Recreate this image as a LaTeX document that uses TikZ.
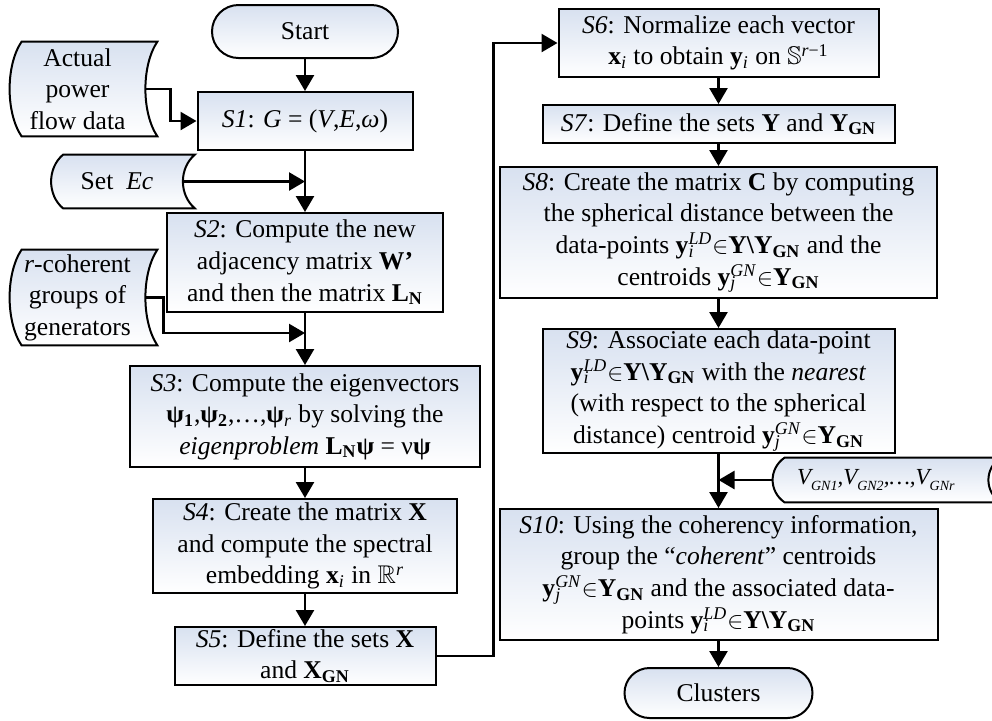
\documentclass[tikz,border=0pt]{standalone}
\usepackage{fontspec}
\setmainfont{Liberation Serif}
\usepackage{amssymb}
\usetikzlibrary{shapes.misc,arrows.meta,backgrounds,calc}
\definecolor{boxtop}{RGB}{216,225,240}
\newcommand\mysubsup[2]{\rlap{\textsubscript{\textit{#1}}}\textsuperscript{\textit{#2}}}
\newcommand\vsub[1]{\raisebox{-0.22em}{\fontsize{7}{8}\selectfont #1}}
% data (stored-data) outline around a named node; #2 = bulge depth
\newcommand\datashape[2]{%
  \path[dshape] let \p1=(#1.north west), \p2=(#1.south east) in
    (\x1+#2,\y1) -- (\x2+#2,\y1)
    .. controls (\x2-#2/3,{\y1+(\y2-\y1)/4}) and (\x2-#2/3,{\y2-(\y2-\y1)/4}) .. (\x2+#2,\y2)
    -- (\x1+#2,\y2)
    .. controls (\x1-#2/3,{\y2-(\y2-\y1)/4}) and (\x1-#2/3,{\y1+(\y2-\y1)/4}) .. cycle;}
\begin{document}
\begin{tikzpicture}[x=0.5pt,y=-0.5pt,
  txt/.style={inner sep=0pt, align=center, font=\fontsize{12.8}{15.8}\selectfont},
  base/.style={txt, draw=black, line width=1pt, top color=boxtop, bottom color=white},
  proc/.style={base, rectangle},
  term/.style={base, rounded rectangle},
  dtxt/.style={txt, rectangle},
  dshape/.style={draw=black, line width=1pt, top color=boxtop, bottom color=white},
  conn/.style={line width=1.25pt, -{Triangle[length=8pt,width=9pt]}}]
\useasboundingbox (0,0) rectangle (992,720);
\clip (0,0) rectangle (992,720);

% left column
\node[term, minimum width=93pt, minimum height=26.5pt] (start) at (305,31.5) {Start};
\node[dtxt, minimum width=67.5pt, minimum height=47pt] (apf) at (77.5,89) {Actual\\power\\flow data};
\node[proc, minimum width=107.5pt, minimum height=29pt] (s1) at (305,121)
  {\textit{S1}: \textit{G} = (\textit{V},\textit{E},\textit{ω})};
\node[dtxt, minimum width=65.5pt, minimum height=26.5pt] (setec) at (117,181.5) {Set\ \ \textit{Ec}};
\node[proc, minimum width=138pt, minimum height=49.5pt] (s2) at (305,262.5)
  {\textit{S2}: Compute the new\\adjacency matrix \textbf{W'}\\and then the matrix \textbf{L\textsubscript{N}}};
\node[dtxt, minimum width=67.5pt, minimum height=47.5pt] (rcg) at (77.5,297.5)
  {\textit{r}-coherent\\groups of\\generators};
\coordinate (j2) at (305,333);
\node[proc, minimum width=175pt, minimum height=50.5pt] (s3) at (305,416.5)
  {\textit{S3}: Compute the eigenvectors\\
   \textbf{ψ\textsubscript{1}},\textbf{ψ\textsubscript{2}},…,\textbf{ψ}\textsubscript{\textit{r}} by solving the\\
   \textit{eigenproblem} \textbf{L\textsubscript{N}ψ} = ν\textbf{ψ}};
\node[proc, minimum width=152pt, minimum height=47pt] (s4) at (305,546)
  {\textit{S4}: Create the matrix \textbf{X}\\and compute the spectral\\embedding \textbf{x}\textsubscript{\textit{i}} in $\mathbb{R}$\textsuperscript{\textit{r}}};
\node[proc, minimum width=130.5pt, minimum height=29pt] (s5) at (305,656)
  {\textit{S5}: Define the sets \textbf{X}\\and \textbf{X\textsubscript{GN}}};

% right column
\node[proc, minimum width=160pt, minimum height=34pt] (s6) at (718.5,43)
  {\textit{S6}: Normalize each vector\\\textbf{x}\textsubscript{\textit{i}} to obtain \textbf{y}\textsubscript{\textit{i}} on $\mathbb{S}$\textsuperscript{\textit{r}−1}};
\node[proc, minimum width=176pt, minimum height=19pt] (s7) at (718.5,124)
  {\textit{S7}: Define the sets \textbf{Y} and \textbf{Y\textsubscript{GN}}};
\node[proc, minimum width=218.5pt, minimum height=65.5pt] (s8) at (718.5,232.5)
  {\textit{S8}: Create the matrix \textbf{C} by computing\\the spherical distance between the\\
   data-points \textbf{y}\mysubsup{i}{LD}$\in$\textbf{Y\textbackslash Y\textsubscript{GN}} and the\\
   centroids \textbf{y}\mysubsup{j}{GN}$\in$\textbf{Y\textsubscript{GN}}};
\node[proc, minimum width=176pt, minimum height=62pt] (s9) at (718.5,391)
  {\textit{S9}: Associate each data-point\\
   \textbf{y}\mysubsup{i}{LD}$\in$\textbf{Y\textbackslash Y\textsubscript{GN}} with the \textit{nearest}\\
   (with respect to the spherical\\
   distance) centroid \textbf{y}\mysubsup{j}{GN}$\in$\textbf{Y\textsubscript{GN}}};
\node[dtxt, text width=107.5pt, align=left, minimum height=22pt, font=\fontsize{11.5}{13}\selectfont] (vgn) at (880.5,480)
  {\hspace*{12pt}\textit{V\vsub{GN1},V\vsub{GN2},…,V\vsub{GNr}}};
\node[proc, minimum width=219pt, minimum height=65.5pt] (s10) at (718.5,574.5)
  {\textit{S10}: Using the coherency information,\\
   group the “\textit{coherent}” centroids\\
   \textbf{y}\mysubsup{j}{GN}$\in$\textbf{Y\textsubscript{GN}} and the associated data-\\
   points \textbf{y}\mysubsup{i}{LD}$\in$\textbf{Y\textbackslash Y\textsubscript{GN}}};
\node[term, minimum width=94pt, minimum height=25pt] (clusters) at (718.5,693) {Clusters};

\begin{scope}[on background layer]
  \datashape{apf}{6pt}
  \datashape{setec}{6pt}
  \datashape{rcg}{6pt}
  \datashape{vgn}{6pt}
\end{scope}

% connectors
\draw[conn] (start.south) -- (s1.north);
\draw[conn] (apf.east) -- ++(25,0) |- (s1.west);
\draw[conn] (s1.south) -- (s2.north);
\draw[conn] (setec.east) -- (setec.east -| s1.south);
\draw[conn] (s2.south) -- (s3.north);
\draw[conn] (rcg.east) -- ++(18,0) |- (j2);
\draw[conn] (s3.south) -- (s4.north);
\draw[conn] (s4.south) -- (s5.north);
\draw[conn] (s5.east) -- ++(57,0) |- (s6.west);
\draw[conn] (s6.south) -- (s7.north);
\draw[conn] (s7.south) -- (s8.north);
\draw[conn] (s8.south) -- (s9.north);
\draw[conn] (s9.south) -- (s10.north);
\draw[conn] (vgn.west) -- (vgn.west -| s9.south);
\draw[conn] (s10.south) -- (clusters.north);
\end{tikzpicture}
\end{document}
